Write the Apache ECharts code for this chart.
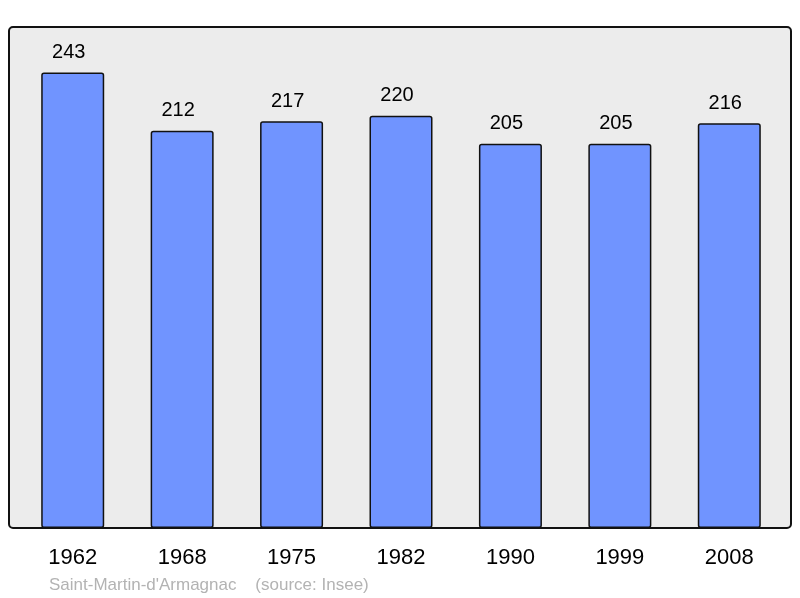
<!DOCTYPE html>
<html>
<head>
<meta charset="utf-8">
<script src="https://cdn.jsdelivr.net/npm/echarts@6/dist/echarts.min.js"></script>
<style>
  html, body { margin: 0; padding: 0; background: #fff; }
  #chart { width: 800px; height: 598px; }
</style>
</head>
<body>
<div id="chart"></div>
<script>
// données de population
var years = ['1962', '1968', '1975', '1982', '1990', '1999', '2008'];
var population = [243, 212, 217, 220, 205, 205, 216];
var footerText = "Saint-Martin-d'Armagnac    (source: Insee)";

window.onload = function() {
    var myChart = echarts.init(document.getElementById('chart'));
    var option = {
        animation: false,
        grid: { left: 18, right: 16, top: 27, bottom: 70 },
        graphic: [{
            type: 'rect',
            z: -1,
            shape: { x: 9, y: 27, width: 782, height: 501, r: 4 },
            style: { fill: '#ececec', stroke: '#111', lineWidth: 2 }
        }, {
            type: 'text',
            left: 49,
            top: 577,
            style: { text: footerText, fill: '#b3b3b3', font: '17px "Liberation Sans", Arial, sans-serif' }
        }],
        xAxis: {
            type: 'category',
            data: years,
            axisLine: { show: false },
            axisTick: { show: false },
            axisLabel: { color: '#000', fontSize: 22, fontFamily: 'Liberation Sans', margin: 19 }
        },
        yAxis: {
            type: 'value',
            min: 0,
            max: 267.3,
            show: false,
            splitLine: { show: false }
        },
        series: [{
            type: 'bar',
            data: population,
            barWidth: 63,
            itemStyle: { color: '#7094ff', borderColor: '#111', borderWidth: 1.5, borderRadius: 2 },
            label: {
                show: true,
                position: 'top',
                distance: 10,
                offset: [-4, 0],
                color: '#000',
                fontSize: 20,
                fontFamily: 'Liberation Sans'
            }
        }]
    };
    myChart.setOption(option);
};
</script>
</body>
</html>
